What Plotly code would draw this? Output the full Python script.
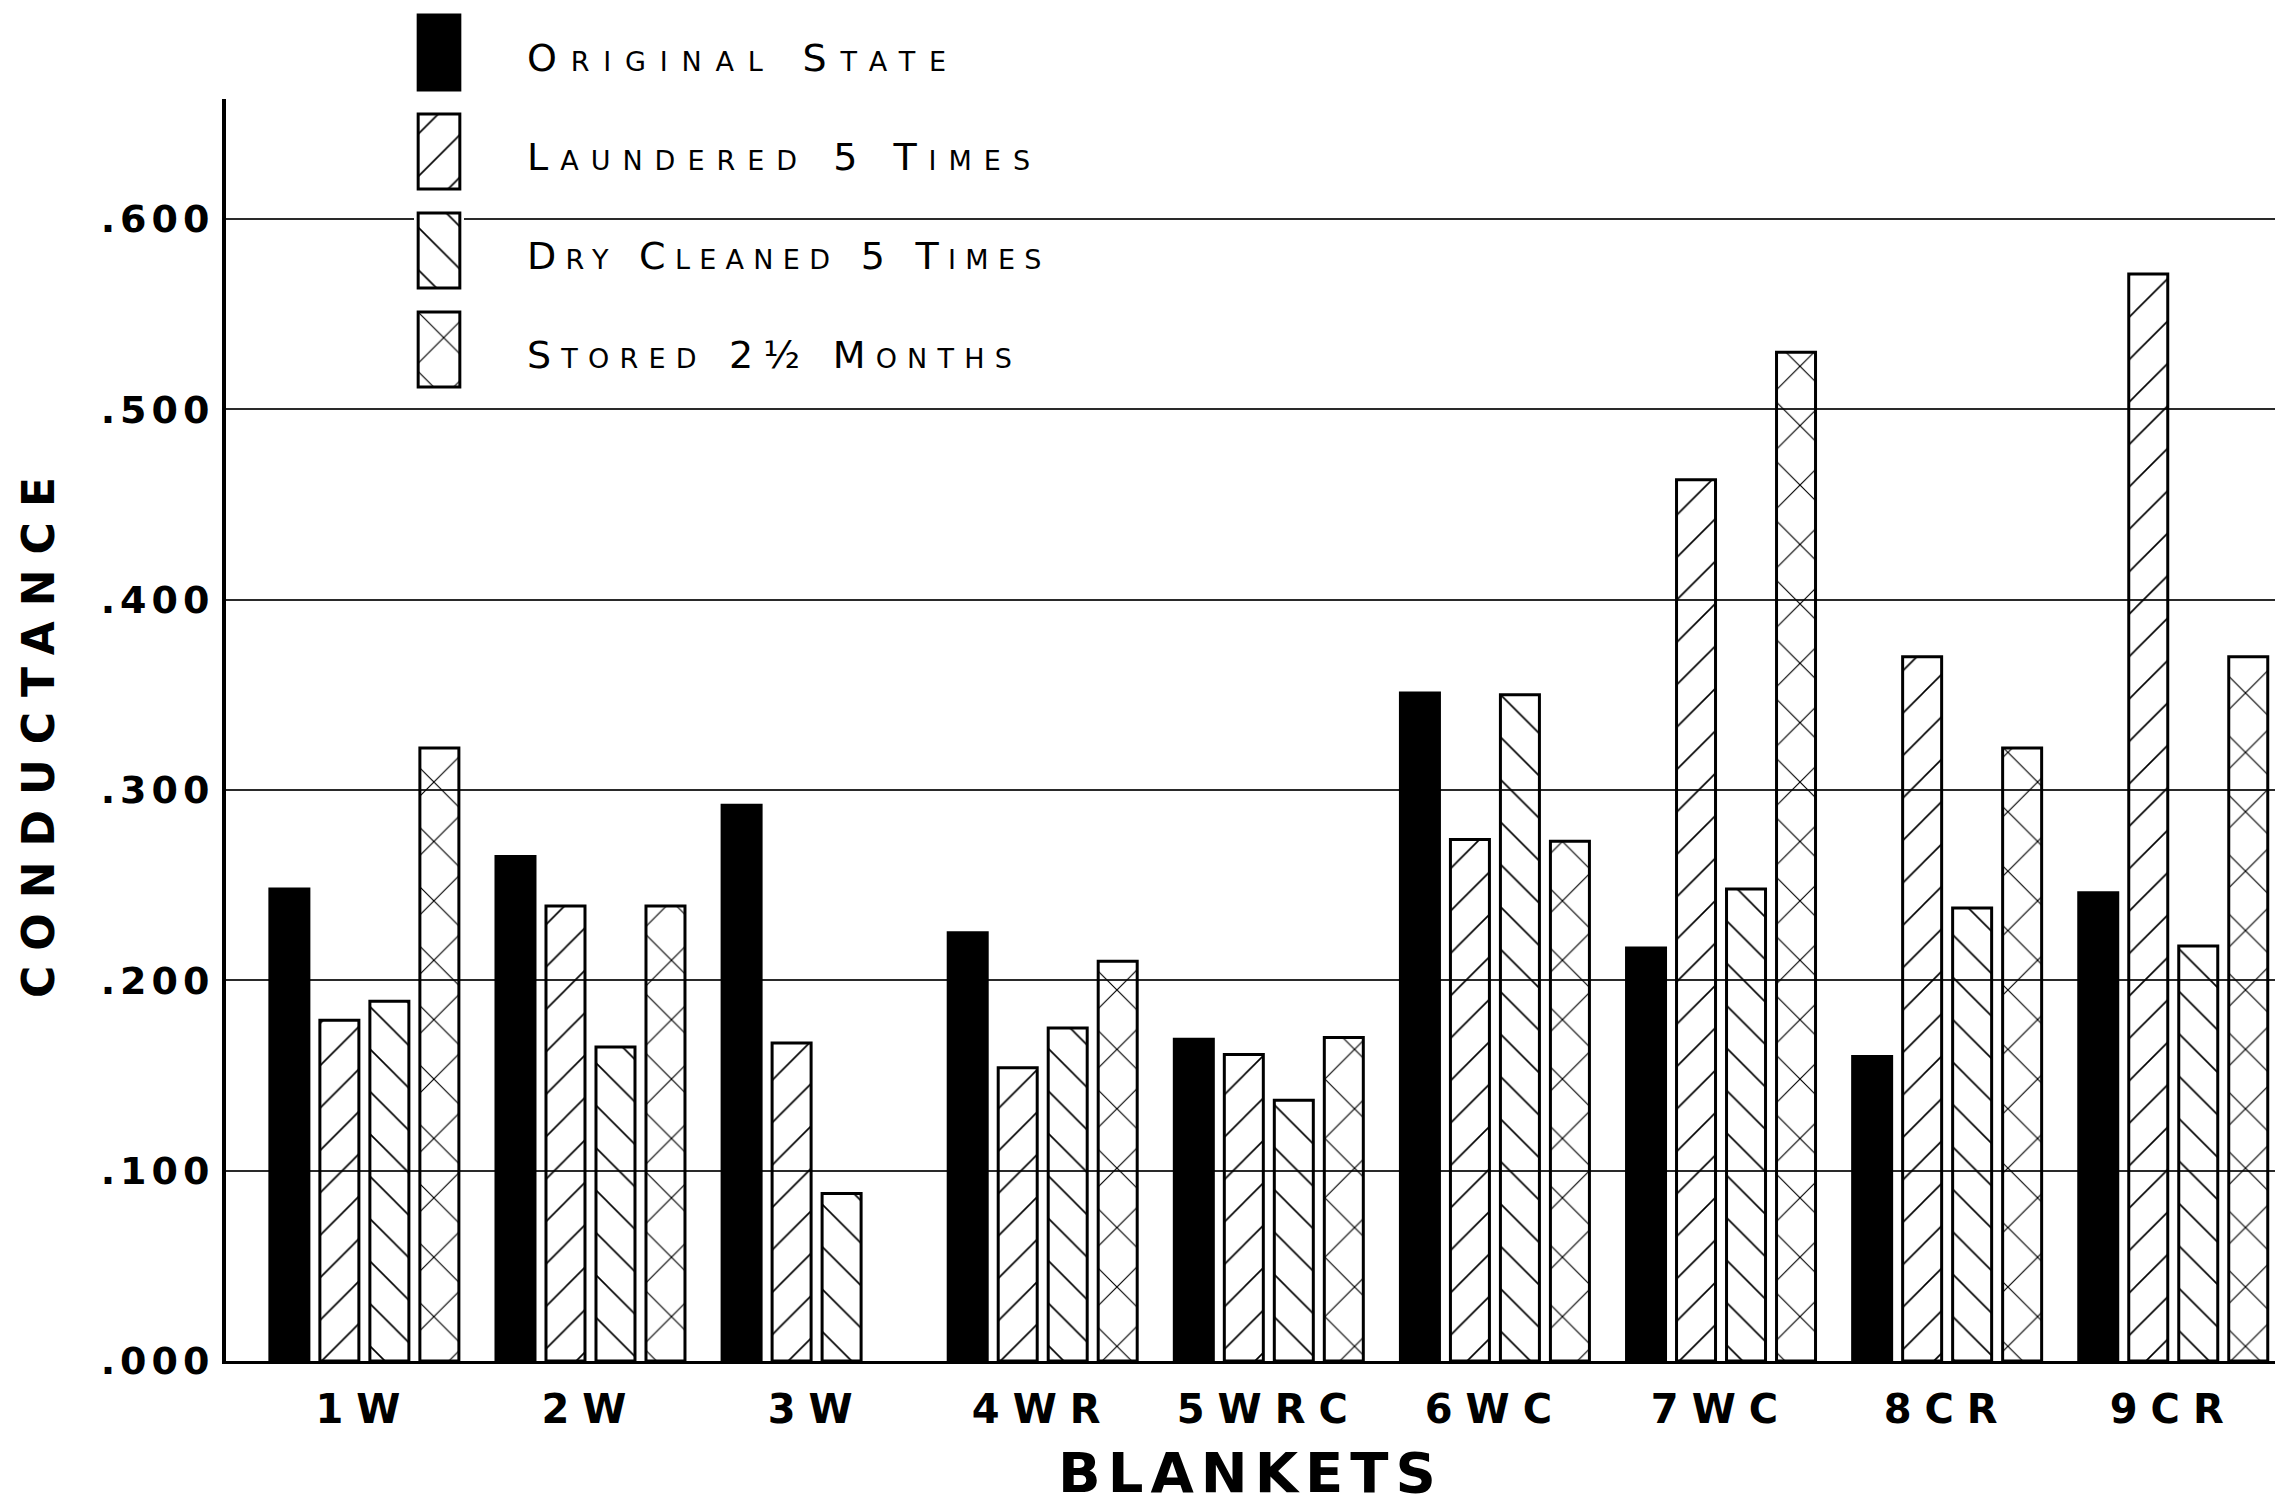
import plotly.graph_objects as go

# ---------------- data ----------------
blankets = ["1W", "2W", "3W", "4WR", "5WRC", "6WC", "7WC", "8CR", "9CR"]
original_state = [0.248, 0.265, 0.292, 0.225, 0.169, 0.351, 0.217, 0.160, 0.246]
laundered_5 = [0.179, 0.239, 0.167, 0.154, 0.161, 0.274, 0.463, 0.370, 0.571]
dry_cleaned_5 = [0.189, 0.165, 0.088, 0.175, 0.137, 0.350, 0.248, 0.238, 0.218]
stored_2half = [0.322, 0.239, None, 0.210, 0.170, 0.273, 0.530, 0.322, 0.370]
series_names = ["Original State", "Laundered 5 Times", "Dry Cleaned 5 Times", "Stored 2½ Months"]
y_tick_vals = [0.0, 0.1, 0.2, 0.3, 0.4, 0.5, 0.6]
y_tick_text = [".000", ".100", ".200", ".300", ".400", ".500", ".600"]

# ---------------- styling ----------------
W, H = 2275, 1508
ML, MR, MT, MB = 226, 0, 10, 147
plot_h = H - MT - MB
main_top_px = 99
FONT = "DejaVu Sans"
shapes_ = ["", "/", "\\", "x"]
pattern_sizes = [30, 30, 30, 42]
legend_spacing = [13.8, 12, 9.3, 10.2]
series_values = [original_state, laundered_5, dry_cleaned_5, stored_2half]


def spaced(txt, px):
    return f"<span style='letter-spacing:{px}px'>{txt}</span>"


def marker_for(shp, size):
    solid = shp == ""
    return dict(
        color="black" if solid else "rgba(0,0,0,0)",
        line=dict(color="black", width=3),
        pattern=dict(shape=shp, fgcolor="black", bgcolor="rgba(0,0,0,0)",
                     size=size, solidity=0.055, fillmode="replace"),
    )


fig = go.Figure()
for name, vals, shp, sz in zip(series_names, series_values, shapes_, pattern_sizes):
    fig.add_trace(go.Bar(x=blankets, y=vals, name=name, showlegend=False,
                         marker=marker_for(shp, sz), hoverinfo="skip"))

# custom legend swatches drawn as bars on an auxiliary axis
LEG_PITCH, LEG_H = 99, 75
for i, (name, shp, sz, sp) in enumerate(zip(series_names, shapes_, pattern_sizes, legend_spacing)):
    fig.add_trace(go.Bar(x=[0], y=[LEG_H], base=[i * LEG_PITCH], offset=-0.5, width=1,
                         xaxis="x2", yaxis="y2", showlegend=False, hoverinfo="skip",
                         marker=marker_for(shp, sz)))
    fig.add_annotation(x=0, xref="paper", xanchor="left", xshift=(525 - ML),
                       y=i * LEG_PITCH + LEG_H / 2 + 6, yref="y2", yanchor="middle",
                       text=spaced(name, sp), showarrow=False,
                       font=dict(family=FONT, size=38, color="black", variant="small-caps"))


def py(Y):  # pixel -> paper y
    return (H - MB - Y) / plot_h


def px_(X):
    return (X - ML) / (W - ML - MR)


fig.update_layout(
    width=W, height=H,
    margin=dict(l=ML, r=MR, t=MT, b=MB, pad=0),
    paper_bgcolor="white", plot_bgcolor="white",
    barmode="group", bargap=0.1155, bargroupgap=0.22,
    hovermode=False,
    xaxis=dict(
        range=[-0.612, 8.45], showline=True, linecolor="black", linewidth=3,
        showgrid=False, zeroline=False, ticks="", ticklabelstandoff=11,
        tickvals=blankets, ticktext=[spaced(b, 13) for b in blankets],
        tickfont=dict(family=FONT, size=40, weight="bold", color="black"),
        title=dict(text=spaced("BLANKETS", 7), standoff=22,
                   font=dict(family=FONT, size=56, weight="bold", color="black")),
        fixedrange=True,
    ),
    yaxis=dict(
        domain=[0, (H - MB - main_top_px) / plot_h], range=[0, 0.663],
        tickvals=y_tick_vals, ticktext=[spaced(t, 5) for t in y_tick_text],
        showgrid=True, gridcolor="#2a2a2a", gridwidth=1.5,
        showline=True, linecolor="black", linewidth=4, zeroline=False,
        ticks="", ticklabelstandoff=0,
        tickfont=dict(family=FONT, size=38, weight="bold", color="black"),
        title=dict(text=spaced("CONDUCTANCE", 15), standoff=33,
                   font=dict(family=FONT, size=44, weight="bold", color="black")),
        fixedrange=True,
    ),
    xaxis2=dict(domain=[px_(414), px_(464)], range=[-0.6, 0.6], anchor="y2",
                visible=False, fixedrange=True),
    yaxis2=dict(domain=[py(391), py(11)], range=[376, -4], anchor="x2",
                visible=False, fixedrange=True),
)

fig.write_html("out.html", config={"displayModeBar": False},
               post_script="document.body.style.margin='0';")
